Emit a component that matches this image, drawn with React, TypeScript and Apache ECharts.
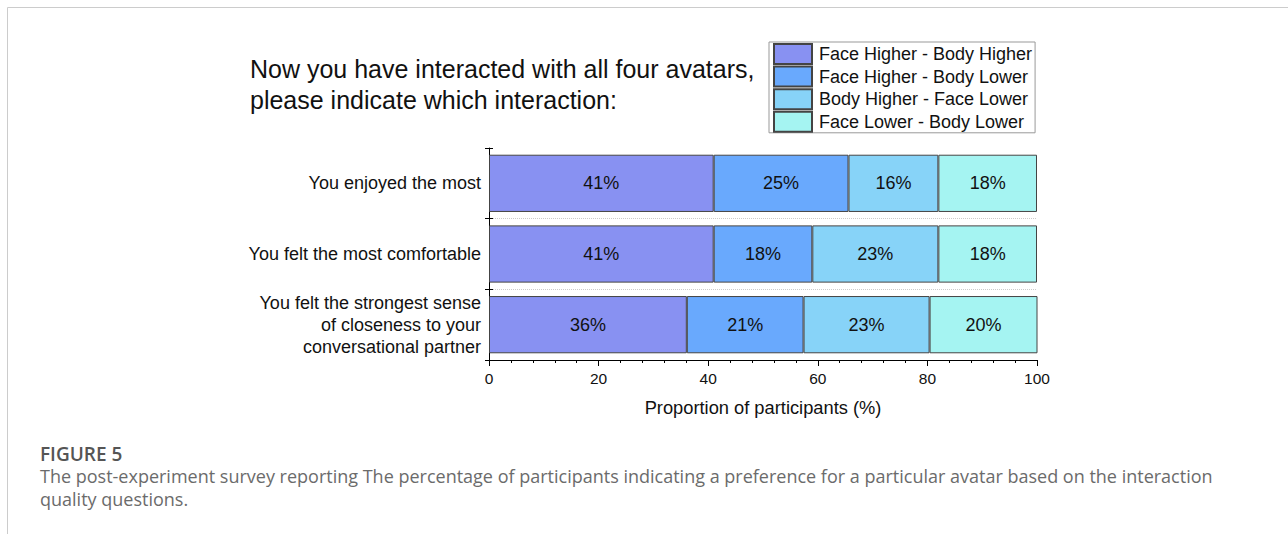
import React, { useEffect, useRef } from "react";
import * as echarts from "echarts";

const categories = [
  "You enjoyed the most",
  "You felt the most comfortable",
  "You felt the strongest sense\nof closeness to your\nconversational partner",
];
const seriesNames = [
  "Face Higher - Body Higher",
  "Face Higher - Body Lower",
  "Body Higher - Face Lower",
  "Face Lower - Body Lower",
];
const faceHigherBodyHigher = [41.0, 41.0, 36.1];
const faceHigherBodyLower = [24.6, 18.0, 21.3];
const bodyHigherFaceLower = [16.4, 23.0, 23.0];
const faceLowerBodyLower = [18.0, 18.0, 19.7];
const xTicks = [0, 20, 40, 60, 80, 100];
const colors = ["#8891F2", "#69A9FD", "#87D3F8", "#A5F4F2"];

const titleText = "Now you have interacted with all four avatars,\nplease indicate which interaction:";
const xAxisName = "Proportion of participants (%)";
const figLabel = "FIGURE 5";
const captionLine1 =
  "The post-experiment survey reporting The percentage of participants indicating a preference for a particular avatar based on the interaction";
const captionLine2 = "quality questions.";

export default function App() {
  const ref = useRef<HTMLDivElement>(null);
  useEffect(() => {
    document.body.style.margin = "0";
    const chart = echarts.init(ref.current!, null, { renderer: "svg" });
    const values = [faceHigherBodyHigher, faceHigherBodyLower, bodyHigherFaceLower, faceLowerBodyLower];
    const font = "'Liberation Sans', Arial, sans-serif";
    chart.setOption({
      animation: false,
      backgroundColor: "#fff",
      textStyle: { fontFamily: font },
      title: {
        text: titleText,
        left: 250,
        top: 53,
        padding: 0,
        textStyle: { fontSize: 25, fontWeight: "normal", color: "#111", lineHeight: 31, fontFamily: font },
      },
      legend: {
        orient: "vertical",
        left: 769,
        top: 42,
        padding: [1, 3, 0, 4],
        itemWidth: 38,
        itemHeight: 20,
        itemGap: 0.6,
        borderColor: "#999",
        borderWidth: 1,
        icon: "rect",
        data: seriesNames,
        textStyle: { fontSize: 18, color: "#111", fontFamily: font, lineHeight: 20, padding: [0, 0, 0, 2] },
      },
      grid: { left: 489, right: 251, top: 148, bottom: 174, containLabel: false },
      xAxis: {
        type: "value",
        min: 0,
        max: 100,
        interval: 20,
        name: xAxisName,
        nameLocation: "middle",
        nameGap: 38,
        nameTextStyle: { fontSize: 18.3, color: "#111", fontFamily: font },
        axisLine: { show: true, lineStyle: { color: "#000", width: 1 } },
        axisTick: { show: true, length: 6, lineStyle: { color: "#000" } },
        minorTick: { show: true, splitNumber: 5, length: 3, lineStyle: { color: "#000" } },
        axisLabel: {
          margin: 10,
          fontSize: 15.5,
          color: "#111",
          fontFamily: font,
          formatter: (v: number) => (xTicks.includes(v) ? String(v) : ""),
        },
        splitLine: { show: false },
      },
      yAxis: [
        {
          type: "category",
          data: categories,
          inverse: true,
          position: "left",
          axisLine: { show: true, lineStyle: { color: "#000", width: 1 } },
          axisTick: { show: true, length: 4, lineStyle: { color: "#000" } },
          axisLabel: { margin: 8, fontSize: 18, color: "#111", lineHeight: 22, align: "right", fontFamily: font },
          splitLine: {
            show: true,
            interval: (idx: number) => idx !== 0,
            lineStyle: { color: "#ccc", type: "dotted", width: 1 },
          },
        },
        {
          type: "category",
          data: categories,
          inverse: true,
          position: "left",
          axisLine: { show: false },
          axisTick: { show: true, inside: true, length: 4, lineStyle: { color: "#000" } },
          axisLabel: { show: false },
          splitLine: { show: false },
        },
      ],
      series: seriesNames.map((name, i) => ({
        name,
        type: "bar",
        stack: "total",
        yAxisIndex: 0,
        barCategoryGap: "19%",
        data: values[i],
        itemStyle: { color: colors[i], borderColor: "#444", borderWidth: 1 },
        label: {
          show: true,
          position: "inside",
          fontSize: 18,
          color: "#111",
          fontFamily: font,
          formatter: (p: any) => Math.round(p.value) + "%",
        },
      })),
      graphic: [
        { type: "line", shape: { x1: 7.5, y1: 7.5, x2: 1288, y2: 7.5 }, style: { stroke: "#ccc", lineWidth: 1 } },
        { type: "line", shape: { x1: 7.5, y1: 7.5, x2: 7.5, y2: 534 }, style: { stroke: "#ccc", lineWidth: 1 } },
        {
          type: "text",
          left: 40,
          top: 444,
          style: { text: figLabel, fontSize: 19, fill: "#555", fontFamily: "'Open Sans', sans-serif", fontWeight: 600 },
        },
        {
          type: "text",
          left: 40,
          top: 467,
          style: { text: captionLine1, fontSize: 18, fill: "#6b6b6b", fontFamily: "'Open Sans', sans-serif" },
        },
        {
          type: "text",
          left: 40,
          top: 490,
          style: { text: captionLine2, fontSize: 18, fill: "#6b6b6b", fontFamily: "'Open Sans', sans-serif" },
        },
      ],
    });
    return () => chart.dispose();
  }, []);
  return <div ref={ref} style={{ width: 1288, height: 534 }} />;
}
